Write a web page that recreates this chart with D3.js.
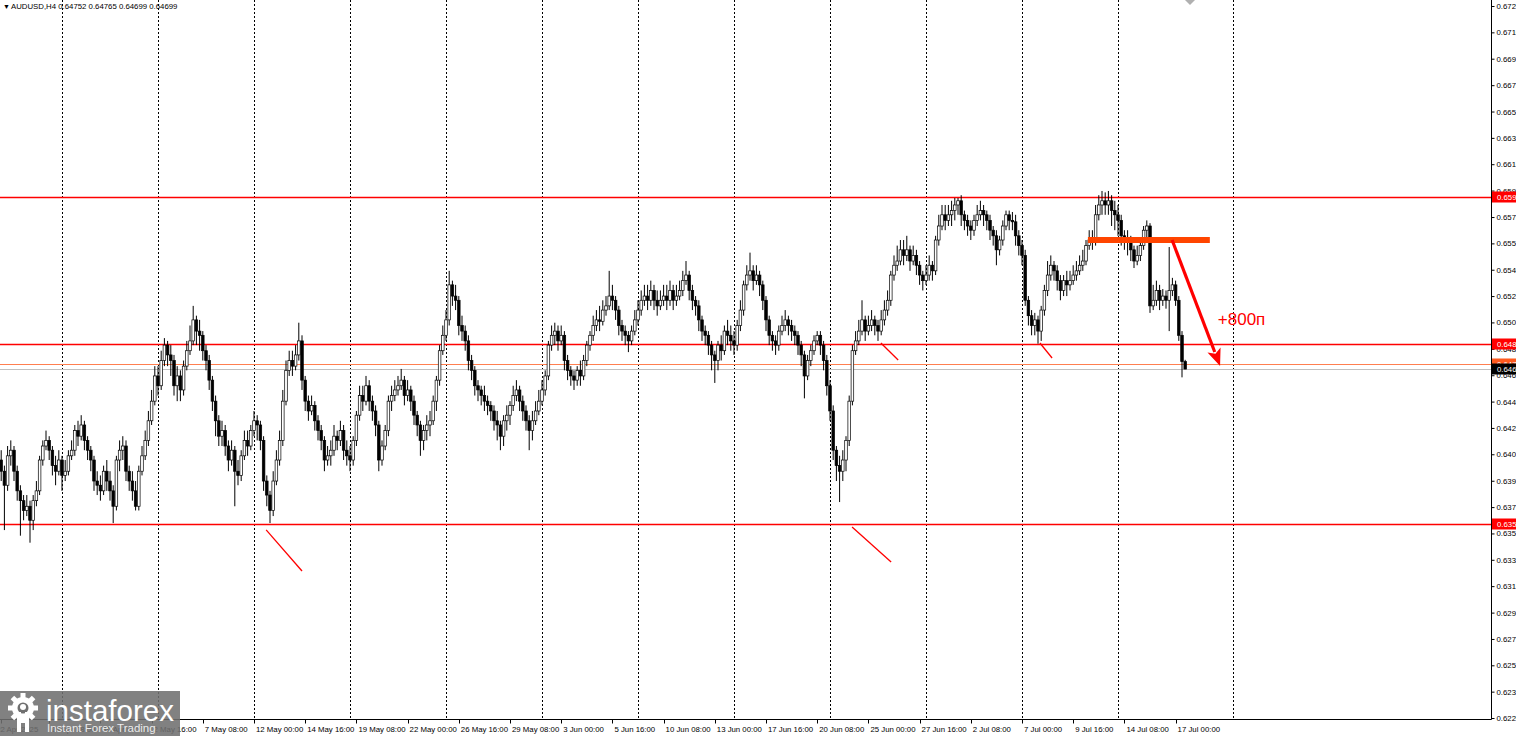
<!DOCTYPE html>
<html><head><meta charset="utf-8">
<script src="https://cdn.jsdelivr.net/npm/d3@7"></script>
<style>html,body{margin:0;padding:0;background:#fff;overflow:hidden}svg{display:block}</style>
</head><body><svg id="c" width="1516" height="736"></svg>
<script>
// ---------------- DATA ----------------
const symbolTitle = "AUDUSD,H4";
const lastOHLC = ["0.64752", "0.64765", "0.64699", "0.64699"];
const firstOpen = 0.6405;
const closes = [
.6397,.6387,.6408,.6412,.6397,.6383,.6376,.6369,.6372,.6362,
.6376,.6383,.6405,.6415,.6419,.6412,.6401,.6397,.6405,.6394,
.6397,.6408,.6412,.6426,.6422,.6430,.6419,.6412,.6405,.6390,
.6387,.6383,.6397,.6390,.6383,.6372,.6405,.6412,.6415,.6397,
.6390,.6383,.6372,.6397,.6408,.6419,.6433,.6447,.6465,.6458,
.6476,.6487,.6480,.6476,.6458,.6465,.6455,.6472,.6483,.6490,
.6505,.6497,.6494,.6483,.6476,.6462,.6447,.6433,.6422,.6426,
.6415,.6405,.6412,.6397,.6394,.6408,.6419,.6415,.6426,.6433,
.6430,.6419,.6390,.6380,.6369,.6390,.6405,.6419,.6447,.6469,
.6476,.6472,.6480,.6490,.6462,.6447,.6440,.6444,.6433,.6426,
.6419,.6405,.6408,.6412,.6422,.6419,.6426,.6412,.6408,.6405,
.6419,.6437,.6451,.6447,.6458,.6447,.6440,.6430,.6405,.6415,
.6426,.6447,.6451,.6455,.6458,.6462,.6451,.6455,.6447,.6437,
.6430,.6419,.6426,.6430,.6433,.6447,.6462,.6483,.6494,.6505,
.6530,.6522,.6519,.6501,.6497,.6490,.6476,.6469,.6458,.6455,
.6451,.6447,.6444,.6440,.6433,.6430,.6422,.6433,.6437,.6444,
.6451,.6455,.6447,.6440,.6433,.6426,.6433,.6440,.6447,.6455,
.6465,.6487,.6494,.6497,.6490,.6494,.6476,.6469,.6465,.6462,
.6469,.6465,.6476,.6487,.6494,.6501,.6505,.6504,.6512,.6515,
.6522,.6519,.6512,.6501,.6497,.6494,.6490,.6497,.6505,.6512,
.6519,.6522,.6519,.6526,.6519,.6515,.6519,.6522,.6519,.6526,
.6519,.6522,.6526,.6533,.6537,.6526,.6519,.6515,.6505,.6497,
.6494,.6487,.6480,.6476,.6487,.6483,.6497,.6494,.6490,.6487,
.6501,.6512,.6530,.6537,.6540,.6533,.6537,.6530,.6519,.6505,
.6494,.6490,.6487,.6497,.6501,.6505,.6501,.6497,.6494,.6487,
.6480,.6465,.6476,.6483,.6490,.6494,.6487,.6476,.6458,.6440,
.6412,.6401,.6397,.6405,.6419,.6447,.6483,.6490,.6497,.6505,
.6497,.6501,.6505,.6501,.6497,.6505,.6512,.6519,.6537,.6544,
.6547,.6555,.6551,.6555,.6547,.6551,.6544,.6537,.6533,.6537,
.6544,.6540,.6562,.6572,.6580,.6576,.6580,.6583,.6587,.6590,
.6580,.6576,.6572,.6569,.6576,.6580,.6583,.6580,.6576,.6569,
.6565,.6555,.6562,.6572,.6580,.6576,.6575,.6565,.6558,.6551,
.6519,.6508,.6501,.6505,.6497,.6512,.6526,.6537,.6544,.6540,
.6533,.6526,.6533,.6530,.6533,.6537,.6540,.6544,.6547,.6558,
.6562,.6561,.6580,.6587,.6590,.6587,.6590,.6583,.6580,.6576,
.6565,.6562,.6561,.6555,.6547,.6551,.6558,.6569,.6572,.6515,
.6519,.6526,.6519,.6522,.6519,.6526,.6530,.6519,.6494,.64752,
.64699];
const highs = [
.6412,.6401,.6415,.6419,.6415,.6401,.6387,.6380,.6380,.6376,
.6380,.6390,.6408,.6419,.6426,.6422,.6415,.6408,.6412,.6408,
.6405,.6412,.6419,.6430,.6433,.6437,.6433,.6422,.6415,.6408,
.6397,.6394,.6401,.6405,.6397,.6387,.6408,.6419,.6422,.6419,
.6401,.6397,.6390,.6401,.6415,.6426,.6440,.6455,.6472,.6472,
.6483,.6492,.6490,.6487,.6480,.6472,.6469,.6476,.6490,.6501,
.6515,.6508,.6505,.6497,.6487,.6480,.6465,.6451,.6437,.6433,
.6430,.6419,.6419,.6415,.6405,.6412,.6426,.6426,.6430,.6440,
.6437,.6433,.6422,.6394,.6383,.6397,.6412,.6426,.6455,.6476,
.6483,.6483,.6487,.6503,.6494,.6465,.6451,.6451,.6447,.6437,
.6430,.6422,.6415,.6419,.6430,.6426,.6433,.6430,.6419,.6415,
.6422,.6440,.6458,.6458,.6465,.6462,.6451,.6444,.6433,.6419,
.6430,.6451,.6458,.6462,.6465,.6470,.6465,.6462,.6458,.6451,
.6440,.6433,.6430,.6437,.6440,.6451,.6465,.6487,.6501,.6512,
.6540,.6533,.6530,.6522,.6508,.6501,.6494,.6480,.6472,.6462,
.6458,.6458,.6451,.6447,.6444,.6440,.6433,.6437,.6444,.6447,
.6458,.6462,.6458,.6451,.6444,.6437,.6440,.6447,.6455,.6462,
.6469,.6490,.6501,.6503,.6501,.6501,.6497,.6480,.6472,.6469,
.6472,.6476,.6480,.6490,.6497,.6508,.6512,.6515,.6519,.6522,
.6540,.6530,.6522,.6515,.6505,.6501,.6497,.6501,.6512,.6519,
.6526,.6530,.6530,.6533,.6530,.6526,.6526,.6530,.6530,.6533,
.6530,.6530,.6533,.6540,.6547,.6540,.6530,.6522,.6519,.6508,
.6501,.6497,.6490,.6483,.6490,.6494,.6501,.6505,.6501,.6497,
.6505,.6519,.6533,.6544,.6553,.6544,.6544,.6540,.6533,.6522,
.6508,.6497,.6494,.6501,.6508,.6512,.6508,.6505,.6501,.6497,
.6490,.6483,.6480,.6487,.6494,.6497,.6497,.6490,.6480,.6462,
.6444,.6415,.6408,.6412,.6422,.6451,.6487,.6497,.6505,.6519,
.6508,.6508,.6512,.6508,.6505,.6512,.6519,.6526,.6540,.6551,
.6558,.6562,.6562,.6565,.6558,.6558,.6555,.6547,.6540,.6544,
.6551,.6547,.6565,.6580,.6587,.6587,.6587,.6590,.6592,.6592,
.6594,.6583,.6580,.6576,.6580,.6587,.6590,.6587,.6583,.6580,
.6572,.6569,.6565,.6576,.6583,.6583,.6582,.6580,.6569,.6562,
.6555,.6522,.6512,.6510,.6508,.6515,.6530,.6547,.6551,.6547,
.6544,.6537,.6537,.6540,.6540,.6544,.6547,.6551,.6555,.6562,
.6569,.6569,.6587,.6594,.6597,.6596,.6597,.6594,.6590,.6587,
.6580,.6569,.6569,.6565,.6558,.6558,.6562,.6572,.6576,.6574,
.6530,.6533,.6530,.6527,.6526,.6557,.6535,.6533,.6522,.6497,
.64765];
const lows = [
.6390,.6355,.6383,.6401,.6390,.6376,.6351,.6362,.6365,.6346,
.6355,.6372,.6380,.6401,.6412,.6405,.6394,.6387,.6394,.6383,
.6390,.6394,.6405,.6408,.6415,.6419,.6412,.6405,.6397,.6383,
.6380,.6376,.6380,.6383,.6376,.6360,.6369,.6397,.6405,.6390,
.6383,.6376,.6369,.6369,.6394,.6405,.6415,.6430,.6444,.6451,
.6455,.6472,.6472,.6465,.6451,.6447,.6447,.6451,.6469,.6480,
.6487,.6487,.6483,.6476,.6469,.6455,.6440,.6422,.6415,.6415,
.6408,.6397,.6401,.6372,.6387,.6390,.6405,.6408,.6412,.6422,
.6419,.6412,.6383,.6372,.6360,.6365,.6387,.6401,.6415,.6444,
.6465,.6465,.6469,.6476,.6455,.6440,.6433,.6437,.6426,.6419,
.6412,.6397,.6401,.6401,.6408,.6412,.6415,.6405,.6401,.6397,
.6401,.6415,.6433,.6440,.6444,.6440,.6433,.6422,.6397,.6401,
.6412,.6422,.6440,.6447,.6451,.6455,.6444,.6447,.6440,.6430,
.6422,.6408,.6412,.6419,.6422,.6430,.6440,.6458,.6480,.6490,
.6501,.6515,.6512,.6494,.6490,.6483,.6469,.6462,.6451,.6447,
.6444,.6440,.6437,.6433,.6426,.6419,.6412,.6415,.6426,.6430,
.6440,.6447,.6440,.6433,.6426,.6412,.6419,.6430,.6437,.6444,
.6451,.6462,.6483,.6487,.6483,.6487,.6469,.6462,.6458,.6455,
.6458,.6458,.6462,.6472,.6483,.6490,.6497,.6497,.6501,.6508,
.6512,.6512,.6505,.6494,.6490,.6487,.6482,.6487,.6494,.6501,
.6508,.6515,.6512,.6515,.6512,.6508,.6512,.6515,.6512,.6515,
.6512,.6515,.6519,.6522,.6530,.6519,.6512,.6508,.6497,.6490,
.6487,.6480,.6469,.6460,.6469,.6476,.6480,.6487,.6483,.6480,
.6483,.6497,.6508,.6526,.6533,.6526,.6530,.6522,.6512,.6497,
.6487,.6483,.6480,.6483,.6494,.6497,.6494,.6490,.6487,.6480,
.6472,.6449,.6462,.6472,.6480,.6487,.6480,.6469,.6451,.6433,
.6405,.6390,.6375,.6390,.6397,.6415,.6444,.6480,.6487,.6494,
.6490,.6494,.6497,.6494,.6490,.6494,.6501,.6508,.6515,.6533,
.6540,.6544,.6544,.6547,.6540,.6544,.6537,.6530,.6526,.6530,
.6533,.6533,.6537,.6558,.6569,.6569,.6572,.6572,.6576,.6580,
.6572,.6569,.6565,.6562,.6565,.6572,.6576,.6572,.6569,.6562,
.6558,.6544,.6551,.6558,.6569,.6569,.6569,.6558,.6551,.6544,
.6515,.6501,.6494,.6494,.6488,.6490,.6508,.6522,.6533,.6533,
.6526,.6519,.6522,.6522,.6526,.6530,.6533,.6537,.6540,.6544,
.6555,.6555,.6558,.6576,.6580,.6580,.6580,.6572,.6569,.6565,
.6558,.6555,.6551,.6547,.6542,.6544,.6547,.6555,.6562,.6510,
.6512,.6515,.6512,.6515,.6513,.6497,.6522,.6515,.6490,.6464,
.64699];
const priceTicks = [0.67290,0.67102,0.66914,0.66725,0.66537,0.66349,0.66161,0.65973,0.65784,0.65596,
  0.65408,0.65220,0.65032,0.64843,0.64655,0.64467,0.64279,0.64091,0.63902,0.63714,
  0.63526,0.63338,0.63150,0.62961,0.62773,0.62585,0.62397,0.62209];
const timeLabelIdx = [0,15,31,47,63,79,95,111,127,143,159,175,191,207,223,239,255,271,287,303,319,335,351,367];
const timeLabels = ["22 Apr 2025","25 Apr 08:00","30 Apr 00:00","2 May 16:00","7 May 08:00","12 May 00:00",
  "14 May 16:00","19 May 08:00","22 May 00:00","26 May 16:00","29 May 08:00","3 Jun 00:00","5 Jun 16:00",
  "10 Jun 08:00","13 Jun 00:00","17 Jun 16:00","20 Jun 08:00","25 Jun 00:00","27 Jun 16:00","2 Jul 08:00",
  "7 Jul 00:00","9 Jul 16:00","14 Jul 08:00","17 Jul 00:00"];
const separatorIdx = [19,49,79,109,139,169,199,229,259,289,319,349,385];
const levelPrices = [0.65927, 0.64878, 0.63590];
const askPrice = 0.64735;
const bidPrice = 0.64699;
const zoneLine = {i0: 339.6, i1: 377.7, price: 0.65620};
const arrowSeg = {i0: 365.9, p0: 0.65620, i1: 380.9, p1: 0.64721};
const arrowText = "+800п";
const arrowTextPos = {i: 380.2, p: 0.65014};
const trendSegs = [
  [82.8, 0.63551, 94.0, 0.63258],
  [265.9, 0.63572, 278.1, 0.63322],
  [274.9, 0.64885, 280.3, 0.64764],
  [324.6, 0.64885, 328.4, 0.64778]
];
const shiftMarkerIdx = 371.5;

// ---------------- DRAW ----------------
const W = 1516, H = 736, plotR = 1491, plotB = 719;
const svg = d3.select("#c");
const font = "'Liberation Sans', Arial, sans-serif";
const x = d3.scaleLinear().domain([0, 370]).range([1.2, 1185.2]);
const y = d3.scaleLinear().domain([0.62209, 0.67290]).range([718, 6]);

svg.append("rect").attr("width", W).attr("height", H).attr("fill", "#fff");
svg.append("defs").append("clipPath").attr("id", "plot")
  .append("rect").attr("x", 0).attr("y", 0).attr("width", plotR).attr("height", plotB);
const plot = svg.append("g").attr("clip-path", "url(#plot)");

// period separators
plot.selectAll("line.sep").data(separatorIdx).join("line")
  .attr("x1", d => Math.round(x(d)) + 0.5).attr("x2", d => Math.round(x(d)) + 0.5)
  .attr("y1", 0).attr("y2", plotB)
  .attr("stroke", "#000").attr("stroke-width", 1).attr("stroke-dasharray", "2,2");

// level lines
plot.selectAll("line.lvl").data(levelPrices).join("line")
  .attr("x1", 0).attr("x2", plotR)
  .attr("y1", d => Math.round(y(d)) + 0.5).attr("y2", d => Math.round(y(d)) + 0.5)
  .attr("stroke", "#ff0000").attr("stroke-width", 1.3);

// bid / ask lines
plot.append("line").attr("x1", 0).attr("x2", plotR)
  .attr("y1", Math.round(y(askPrice)) + 0.5).attr("y2", Math.round(y(askPrice)) + 0.5)
  .attr("stroke", "#ff7f50").attr("stroke-width", 1);
plot.append("line").attr("x1", 0).attr("x2", plotR)
  .attr("y1", Math.round(y(bidPrice)) + 0.5).attr("y2", Math.round(y(bidPrice)) + 0.5)
  .attr("stroke", "#c0c0c0").attr("stroke-width", 1);

// candles
const bars = closes.map((c, i) => ({
  i, o: i === 0 ? firstOpen : closes[i - 1], h: highs[i], l: lows[i], c
}));
const cg = plot.append("g");
cg.selectAll("line.w").data(bars).join("line")
  .attr("x1", d => x(d.i)).attr("x2", d => x(d.i))
  .attr("y1", d => y(d.h)).attr("y2", d => y(d.l))
  .attr("stroke", "#000").attr("stroke-width", 1);
const bw = 2.6;
cg.selectAll("rect.b").data(bars).join("rect")
  .attr("x", d => x(d.i) - bw / 2)
  .attr("y", d => y(Math.max(d.o, d.c)))
  .attr("width", bw)
  .attr("height", d => Math.max(0.8, Math.abs(y(d.o) - y(d.c))))
  .attr("fill", d => d.c >= d.o ? "#fff" : "#000")
  .attr("stroke", "#000").attr("stroke-width", 0.7);

// short trend segments
plot.selectAll("line.tr").data(trendSegs).join("line")
  .attr("x1", d => x(d[0])).attr("y1", d => y(d[1]))
  .attr("x2", d => x(d[2])).attr("y2", d => y(d[3]))
  .attr("stroke", "#ff0000").attr("stroke-width", 1.3);

// orange zone line
plot.append("line")
  .attr("x1", x(zoneLine.i0)).attr("x2", x(zoneLine.i1))
  .attr("y1", y(zoneLine.price)).attr("y2", y(zoneLine.price))
  .attr("stroke", "#ff4500").attr("stroke-width", 6);

// arrow
{
  const x0 = x(arrowSeg.i0), y0 = y(arrowSeg.p0), x1 = x(arrowSeg.i1), y1 = y(arrowSeg.p1);
  const dx = x1 - x0, dy = y1 - y0, len = Math.hypot(dx, dy);
  const ux = dx / len, uy = dy / len, hl = 17, hw = 7;
  const bx = x1 - ux * hl, by = y1 - uy * hl;
  plot.append("line").attr("x1", x0).attr("y1", y0).attr("x2", bx + ux * 2).attr("y2", by + uy * 2)
    .attr("stroke", "#ff0000").attr("stroke-width", 3.2);
  plot.append("path")
    .attr("d", `M${x1},${y1}L${bx - uy * hw},${by + ux * hw}L${bx + ux * 4},${by + uy * 4}L${bx + uy * hw},${by - ux * hw}Z`)
    .attr("fill", "#ff0000");
  plot.append("text").attr("x", x(arrowTextPos.i)).attr("y", y(arrowTextPos.p))
    .attr("font-family", font).attr("font-size", 17).attr("fill", "#ff0000").text(arrowText);
}

// chart-shift marker
svg.append("path")
  .attr("d", `M${x(shiftMarkerIdx) - 5},0L${x(shiftMarkerIdx) + 5},0L${x(shiftMarkerIdx)},5Z`)
  .attr("fill", "#b0b0b0");

// frame
svg.append("line").attr("x1", plotR + 0.5).attr("x2", plotR + 0.5).attr("y1", 0).attr("y2", plotB + 0.5)
  .attr("stroke", "#000");
svg.append("line").attr("x1", 0).attr("x2", plotR + 0.5).attr("y1", plotB + 0.5).attr("y2", plotB + 0.5)
  .attr("stroke", "#000");

// right price axis
const ya = svg.append("g").attr("transform", `translate(${plotR + 0.5},0)`)
  .call(d3.axisRight(y).tickValues(priceTicks).tickFormat(d3.format(".5f")).tickSizeInner(3).tickSizeOuter(0).tickPadding(2));
ya.select(".domain").remove();
ya.selectAll("text").attr("font-family", font).attr("font-size", 7.8).attr("fill", "#000");
ya.selectAll("line").attr("stroke", "#000");

function priceTag(p, bg, fg) {
  const g = svg.append("g").attr("transform", `translate(${plotR + 1},${Math.round(y(p))})`);
  g.append("rect").attr("x", 0).attr("y", -5.5).attr("width", W - plotR).attr("height", 11).attr("fill", bg);
  g.append("text").attr("x", 5).attr("y", 0).attr("dy", "0.35em")
    .attr("font-family", font).attr("font-size", 7.8).attr("fill", fg).text(d3.format(".5f")(p));
}
levelPrices.forEach(p => priceTag(p, "#ff0000", "#fff"));
priceTag(askPrice, "#ff5a1f", "#fff");
priceTag(bidPrice, "#000", "#fff");

// bottom time axis
const xa = svg.append("g").attr("transform", `translate(0,${plotB + 0.5})`);
xa.selectAll("line").data(timeLabelIdx).join("line")
  .attr("x1", d => Math.round(x(d)) + 0.5).attr("x2", d => Math.round(x(d)) + 0.5)
  .attr("y1", 0).attr("y2", 4).attr("stroke", "#000");
xa.selectAll("text").data(timeLabelIdx).join("text")
  .attr("x", (d, k) => k === 0 ? x(d) - 5 : x(d) + 2).attr("y", 12)
  .attr("font-family", font).attr("font-size", 7.8).attr("fill", "#000")
  .text((d, k) => timeLabels[k]);

// title
svg.append("text").attr("x", 3).attr("y", 9).attr("font-family", font).attr("font-size", 7)
  .attr("fill", "#000").text("▼");
svg.append("text").attr("x", 11).attr("y", 9).attr("font-family", font).attr("font-size", 7.8)
  .attr("fill", "#000").text(symbolTitle + " " + lastOHLC.join(" "));

// watermark
const wm = svg.append("g");
wm.append("rect").attr("x", 0).attr("y", 691).attr("width", 180).attr("height", 45)
  .attr("fill", "#707070").attr("opacity", 0.88);
const gear = wm.append("g").attr("transform", "translate(23,708)").attr("fill", "#fff");
d3.range(8).forEach(k => {
  gear.append("rect").attr("x", -2.5).attr("y", -15).attr("width", 5).attr("height", 6)
    .attr("transform", `rotate(${k * 45})`);
});
gear.append("circle").attr("r", 11);
gear.append("circle").attr("r", 5.5).attr("fill", "#707070");
gear.append("circle").attr("r", 3).attr("cy", -1);
gear.append("rect").attr("x", -6).attr("y", 4).attr("width", 4).attr("height", 20);
gear.append("rect").attr("x", 2).attr("y", 4).attr("width", 4).attr("height", 20);
wm.append("text").attr("x", 46).attr("y", 721).attr("font-family", font).attr("font-size", 29.5)
  .attr("fill", "#fff").text("instaforex");
wm.append("text").attr("x", 47).attr("y", 732).attr("font-family", font).attr("font-size", 11.5)
  .attr("fill", "#fff").attr("opacity", 0.85).text("Instant Forex Trading");
</script>
</body></html>
